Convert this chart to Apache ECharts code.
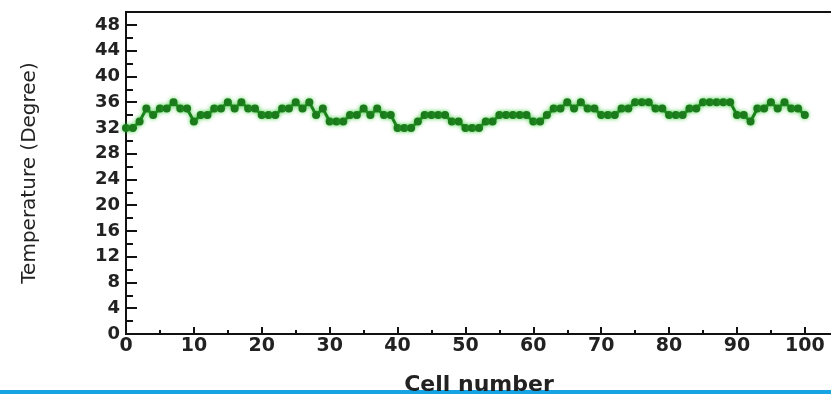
<!DOCTYPE html>
<html>
<head>
<meta charset="utf-8">
<script src="https://cdn.jsdelivr.net/npm/echarts@6/dist/echarts.min.js"></script>
<style>html,body{margin:0;padding:0;background:#fff;}#chart{width:831px;height:394px;}</style>
</head>
<body>
<div id="chart"></div>
<script>
const cellNumbers = [];
for (let i = 0; i <= 100; i++) cellNumbers.push(i);
const temperatures = [
  32, 32, 33, 35, 34, 35, 35, 36, 35, 35,
  33, 34, 34, 35, 35, 36, 35, 36, 35, 35,
  34, 34, 34, 35, 35, 36, 35, 36, 34, 35,
  33, 33, 33, 34, 34, 35, 34, 35, 34, 34,
  32, 32, 32, 33, 34, 34, 34, 34, 33, 33,
  32, 32, 32, 33, 33, 34, 34, 34, 34, 34,
  33, 33, 34, 35, 35, 36, 35, 36, 35, 35,
  34, 34, 34, 35, 35, 36, 36, 36, 35, 35,
  34, 34, 34, 35, 35, 36, 36, 36, 36, 36,
  34, 34, 33, 35, 35, 36, 35, 36, 35, 35,
  34
];
const xTicks = [0, 10, 20, 30, 40, 50, 60, 70, 80, 90, 100];
const yTicks = [0, 4, 8, 12, 16, 20, 24, 28, 32, 36, 40, 44, 48];

const points = cellNumbers.map((c, i) => [c, temperatures[i]]);
const chart = echarts.init(document.getElementById('chart'), null, {renderer: 'canvas'});
chart.setOption({
  animation: false,
  backgroundColor: '#ffffff',
  grid: {left: 126, right: -1, top: 12, bottom: 60, outerBoundsMode: 'none', containLabel: false,
    show: true, borderColor: '#111', borderWidth: 2},
  xAxis: {
    type: 'value', min: 0, max: 104, interval: 10,
    name: 'Cell number', nameLocation: 'middle', nameGap: 40,
    nameTextStyle: {fontFamily: 'DejaVu Sans', fontWeight: 'bold', fontSize: 22, color: '#222'},
    axisLine: {show: true, lineStyle: {color: '#111', width: 2}},
    axisTick: {show: true, inside: true, length: 7, lineStyle: {color: '#111', width: 2}},
    minorTick: {show: true, splitNumber: 2, length: 4, lineStyle: {color: '#111', width: 2}},
    splitLine: {show: false},
    axisLabel: {fontFamily: 'DejaVu Sans', fontWeight: 'bold', fontSize: 19, color: '#222', margin: 3,
      formatter: v => xTicks.includes(v) ? String(v) : ''}
  },
  yAxis: {
    type: 'value', min: 0, max: 50, interval: 4,
    name: 'Temperature (Degree)', nameLocation: 'middle', nameGap: 86,
    nameTextStyle: {fontFamily: 'DejaVu Sans', fontSize: 20, color: '#222'},
    axisLine: {show: true, lineStyle: {color: '#111', width: 2}},
    axisTick: {show: true, inside: true, length: 11, lineStyle: {color: '#111', width: 2}},
    minorTick: {show: true, splitNumber: 2, length: 7, lineStyle: {color: '#111', width: 2}},
    splitLine: {show: false},
    axisLabel: {fontFamily: 'DejaVu Sans', fontWeight: 'bold', fontSize: 18, color: '#222', margin: 6,
      formatter: v => yTicks.includes(v) ? String(v) : ''}
  },
  graphic: [{type: 'rect', left: 0, top: 390, shape: {width: 831, height: 4}, style: {fill: '#16a3e3'}}],
  series: [{
    type: 'line', data: points, symbol: 'circle', symbolSize: 8, showSymbol: true,
    lineStyle: {color: '#1c7a1c', width: 3, shadowColor: 'rgba(40,200,40,0.6)', shadowBlur: 4},
    itemStyle: {color: '#1c7a1c', shadowColor: 'rgba(40,200,40,0.7)', shadowBlur: 4}
  }]
});
</script>
</body>
</html>
